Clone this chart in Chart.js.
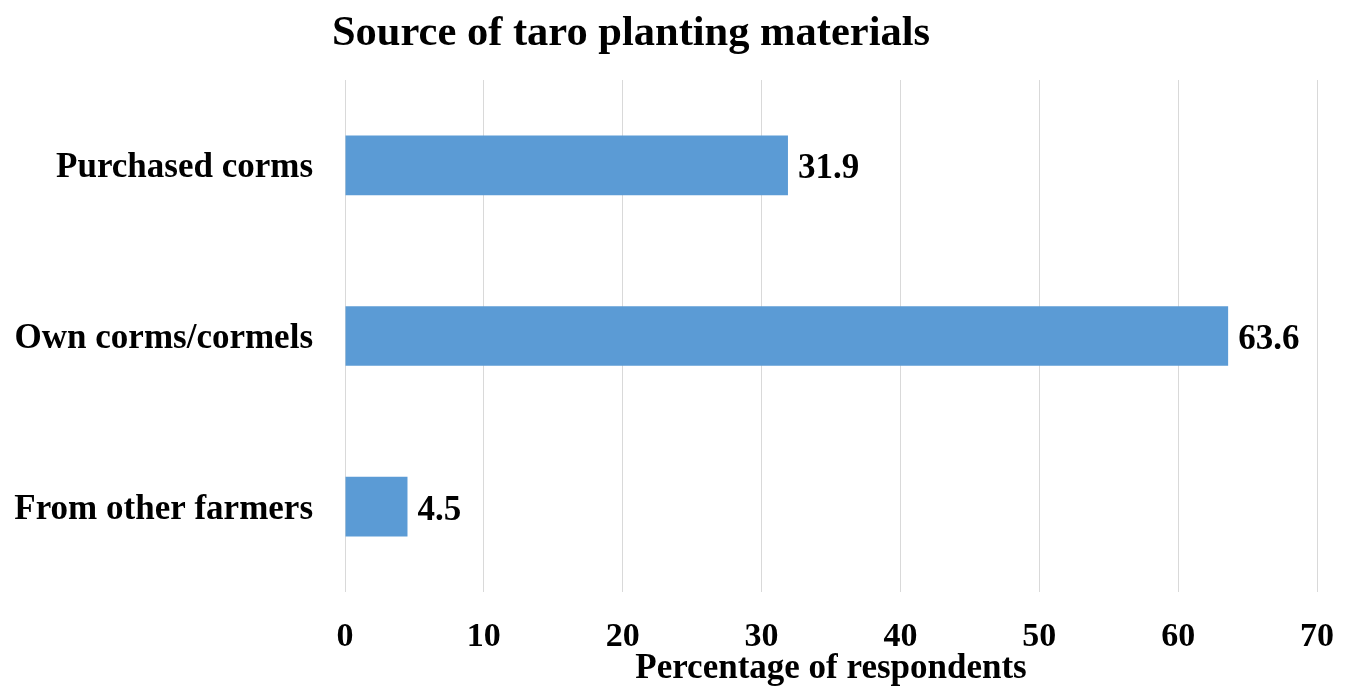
<!DOCTYPE html>
<html>
<head>
<meta charset="utf-8">
<script src="https://cdn.jsdelivr.net/npm/chart.js@4.4.1/dist/chart.umd.min.js"></script>
<style>
  html, body { margin: 0; padding: 0; background: #ffffff; }
  #wrap { width: 1349px; height: 690px; }
</style>
</head>
<body>
<div id="wrap"><canvas id="chart" width="1349" height="690"></canvas></div>
<script>
// Survey results: where farmers get their taro planting material
const chartTitle = 'Source of taro planting materials';
const categories = ['Purchased corms', 'Own corms/cormels', 'From other farmers'];
const percentages = [31.9, 63.6, 4.5];
const xTicks = [0, 10, 20, 30, 40, 50, 60, 70];

const serif = "'Liberation Serif', 'Times New Roman', serif";

// Writes each bar's value just past its end
const valueLabels = {
  id: 'valueLabels',
  afterDatasetsDraw(chart) {
    const ctx = chart.ctx;
    const meta = chart.getDatasetMeta(0);
    ctx.save();
    ctx.font = `bold 35px ${serif}`;
    ctx.fillStyle = '#000000';
    ctx.textAlign = 'left';
    ctx.textBaseline = 'middle';
    meta.data.forEach((bar, i) => {
      ctx.fillText(String(percentages[i]), bar.x + 10, bar.y + 4);
    });
    ctx.restore();
  }
};

// Heading, centred a little left of the canvas middle
const headline = {
  id: 'headline',
  afterDraw(chart) {
    const ctx = chart.ctx;
    ctx.save();
    ctx.font = `bold 42.5px ${serif}`;
    ctx.fillStyle = '#000000';
    ctx.textAlign = 'center';
    ctx.textBaseline = 'alphabetic';
    ctx.fillText(chartTitle, 631, 45);
    ctx.restore();
  }
};

new Chart(document.getElementById('chart'), {
  type: 'bar',
  data: {
    labels: categories,
    datasets: [{
      data: percentages,
      backgroundColor: '#5B9BD5',
      borderWidth: 0,
      barPercentage: 0.35,
      categoryPercentage: 1.0
    }]
  },
  options: {
    indexAxis: 'y',
    responsive: false,
    animation: false,
    layout: { padding: { left: 0, right: 32, top: 80, bottom: 0 } },
    plugins: {
      legend: { display: false },
      tooltip: { enabled: false },
      title: { display: false }
    },
    scales: {
      x: {
        min: 0,
        max: 70,
        afterBuildTicks(scale) {
          scale.ticks = xTicks.map(v => ({ value: v }));
        },
        afterFit(scale) {
          scale.height = 98;
          scale.paddingLeft = 0;
          scale.paddingRight = 0;
        },
        grid: { color: '#d9d9d9', lineWidth: 1, drawTicks: false },
        border: { display: false },
        ticks: {
          color: '#000000',
          padding: 25,
          font: { family: serif, size: 34, weight: 'bold' }
        },
        title: {
          display: true,
          text: 'Percentage of respondents',
          color: '#000000',
          font: { family: serif, size: 35, weight: 'bold' },
          padding: { top: 0, bottom: 0 }
        }
      },
      y: {
        afterFit(scale) { scale.width = 345; },
        grid: { display: false, drawTicks: false },
        border: { display: false },
        ticks: {
          color: '#000000',
          padding: 32,
          labelOffset: 3,
          font: { family: serif, size: 35, weight: 'bold' }
        }
      }
    }
  },
  plugins: [valueLabels, headline]
});
</script>
</body>
</html>
